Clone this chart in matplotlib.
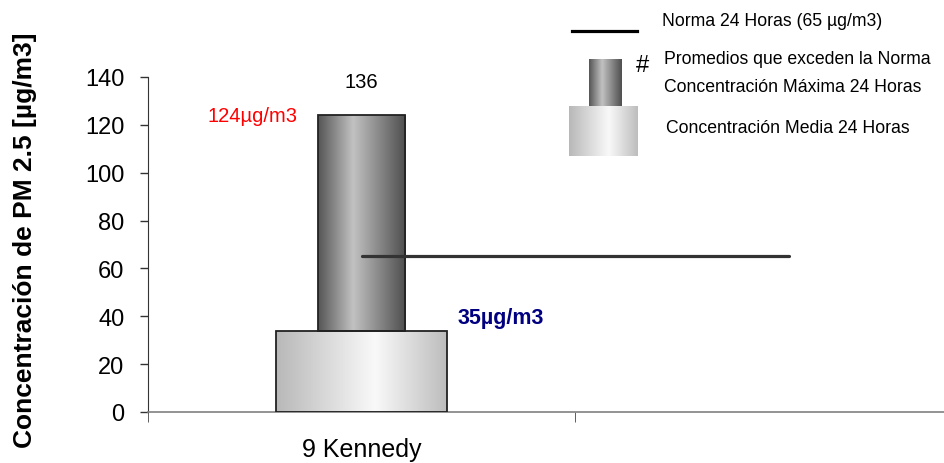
import numpy as np
import matplotlib
matplotlib.use("Agg")
import matplotlib.pyplot as plt
from matplotlib.colors import LinearSegmentedColormap
from matplotlib.patches import Rectangle

plt.rcParams['font.family'] = ['Liberation Sans', 'DejaVu Sans']

# data
stations = ["9 Kennedy", ""]
media_24h = [34]
maxima_24h = [124]
max_label = ["136"]
norma = 65
ylabel = "Concentración de PM 2.5 [µg/m3]"

cmap_max = LinearSegmentedColormap.from_list(
    "maxg", [(0, "#555555"), (0.4, "#c2c2c2"), (1, "#4e4e4e")])
cmap_mean = LinearSegmentedColormap.from_list(
    "meang", [(0, "#b8b8b8"), (0.58, "#f9f9f9"), (1, "#bdbdbd")])
grad = np.linspace(0, 1, 256).reshape(1, -1)


def gradient_bar(ax, x0, x1, y0, y1, cmap, lw=1.3):
    im = ax.imshow(grad, cmap=cmap, extent=[x0, x1, y0, y1], aspect='auto',
                   interpolation='bicubic', zorder=2)
    rect = Rectangle((x0, y0), x1 - x0, y1 - y0, facecolor='none',
                     edgecolor='#222222', lw=lw, zorder=3)
    ax.add_patch(rect)
    im.set_clip_path(rect)


fig = plt.figure(figsize=(9.45, 4.64), dpi=100)
ax = fig.add_axes([148 / 945, 1 - 413 / 464, 854 / 945, 335 / 464])

x = np.arange(len(stations))
for i in range(len(media_24h)):
    gradient_bar(ax, x[i] - 0.2, x[i] + 0.2, 0, media_24h[i], cmap_mean)
    gradient_bar(ax, x[i] - 0.103, x[i] + 0.103, media_24h[i], maxima_24h[i], cmap_max)
    ax.text(x[i], maxima_24h[i] + 10, max_label[i], ha='center', va='bottom', fontsize=14.5)
    ax.text(x[i] - 0.15, maxima_24h[i], f"{maxima_24h[i]}µg/m3", ha='right',
            va='center', fontsize=14.5, color='#ff0000')
    ax.text(x[i] + 0.225, media_24h[i] + 1.0, f"{media_24h[i] + 1}µg/m3", ha='left',
            va='bottom', fontsize=15.5, color='#000080', fontweight='bold')

ax.plot([x[0], x[1]], [norma, norma], color='#333333', lw=2.3, zorder=4,
        solid_capstyle='round')

ax.set_xlim(-0.5, 1.5)
ax.set_ylim(0, 140)
ax.set_yticks(np.arange(0, 141, 20))
ax.tick_params(axis='y', labelsize=17, direction='out', length=6, width=1, color='#333333', pad=11)
ax.set_xticks(x)
ax.set_xticklabels(stations, fontsize=18)
ax.tick_params(axis='x', length=0, pad=18)
ax.set_xticks([-0.5, 0.5, 1.5], minor=True)
ax.tick_params(axis='x', which='minor', length=7, direction='out', color='#444444')
for s in ['top', 'right']:
    ax.spines[s].set_visible(False)
ax.spines['left'].set_color('#333333')
ax.spines['bottom'].set_color('#808080')
ax.spines['bottom'].set_linewidth(1.2)
ax.set_ylabel(ylabel, fontsize=19, fontweight='bold', va='center')
ax.yaxis.set_label_coords(-0.144, 0.516)

# legend drawn in pixel coordinates on an overlay axes
lg = fig.add_axes([0, 0, 1, 1])
lg.set_xlim(0, 945)
lg.set_ylim(464, 0)
lg.axis('off')
lg.plot([572, 637], [32, 32], color='black', lw=2.3)
gradient_bar(lg, 569, 638, 157, 107, cmap_mean, lw=0)
gradient_bar(lg, 589, 622, 107, 60, cmap_max, lw=0)
lg.set_xlim(0, 945)
lg.set_ylim(464, 0)
lg.text(642, 66, "#", fontsize=17, ha='center', va='center')
lg.text(662, 22, "Norma 24 Horas (65 µg/m3)", fontsize=12.7, va='center')
lg.text(664, 60, "Promedios que exceden la Norma", fontsize=12.7, va='center')
lg.text(664, 87, "Concentración Máxima 24 Horas", fontsize=12.7, va='center')
lg.text(666, 129, "Concentración Media 24 Horas", fontsize=12.7, va='center')

fig.savefig("out.png", dpi=100)
